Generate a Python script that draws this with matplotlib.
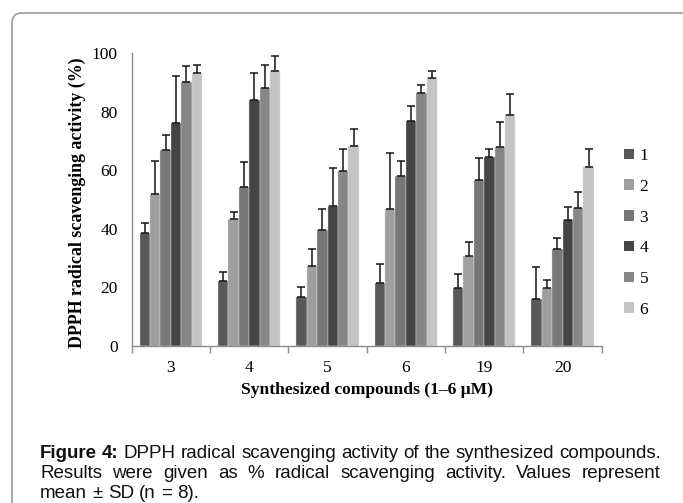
import numpy as np
import matplotlib
matplotlib.use('Agg')
import matplotlib.pyplot as plt
from matplotlib.patches import FancyBboxPatch, Patch
from matplotlib.transforms import IdentityTransform

# ---------------- data ----------------
compounds = ['3', '4', '5', '6', '19', '20']
series = ['1', '2', '3', '4', '5', '6']

mean_1 = [38.6, 22.2, 16.6, 21.4, 19.9, 16.1]
mean_2 = [52.0, 43.4, 27.3, 46.7, 30.9, 19.9]
mean_3 = [67.0, 54.3, 39.6, 58.1, 56.7, 33.1]
mean_4 = [76.2, 83.9, 47.9, 77.0, 64.7, 43.0]
mean_5 = [90.1, 88.1, 59.8, 86.3, 68.0, 47.0]
mean_6 = [93.4, 93.8, 68.3, 91.7, 78.9, 61.0]

sd_1 = [3.3, 3.2, 3.6, 6.6, 4.6, 10.9]
sd_2 = [11.3, 2.4, 5.8, 19.3, 4.7, 2.8]
sd_3 = [5.0, 8.7, 7.2, 5.2, 7.6, 3.7]
sd_4 = [16.2, 9.4, 13.0, 5.0, 2.5, 4.4]
sd_5 = [5.7, 8.0, 7.5, 2.8, 8.5, 5.6]
sd_6 = [2.6, 5.4, 5.9, 2.3, 7.3, 6.3]

y_ticks = [0, 20, 40, 60, 80, 100]

means = [mean_1, mean_2, mean_3, mean_4, mean_5, mean_6]
sds = [sd_1, sd_2, sd_3, sd_4, sd_5, sd_6]
colors = ['#585858', '#9f9f9f', '#777777', '#454545', '#868686', '#c4c4c4']

# ---------------- figure ----------------
W, H = 683, 503
fig = plt.figure(figsize=(W / 100, H / 100), dpi=100)
fig.patch.set_facecolor('white')


def fx(px):
    return px / W


def fy(py):
    return 1 - py / H


# outer rounded frame
frame = FancyBboxPatch((12, -60), 760, (H - 13) + 60,
                       boxstyle="round,pad=0,rounding_size=10",
                       transform=IdentityTransform(), facecolor='none',
                       edgecolor='#9a9a9a', linewidth=1.2)
fig.add_artist(frame)

ax = fig.add_axes([fx(131.7), fy(346), (601.7 - 131.7) / W, (346 - 53.3) / H])

serif = 'Liberation Serif'
x = np.arange(len(compounds))
bw = 0.133
for i, (m, s) in enumerate(zip(means, sds)):
    pos = x + (i - 2.5) * bw
    ax.bar(pos, m, width=bw, color=colors[i], edgecolor='#dcdcdc',
           linewidth=0.3, label=series[i], zorder=2)
    ax.errorbar(pos, m, yerr=[np.zeros(len(s)), s], fmt='none',
                ecolor='#151515', elinewidth=1.1, capsize=3, capthick=1.1,
                zorder=3)

ax.set_xlim(-0.5, len(compounds) - 0.5)
ax.set_ylim(0, 100)
ax.set_yticks(y_ticks)
ax.set_yticklabels([str(t) for t in y_ticks], family=serif, fontsize=12.5)
ax.set_xticks(np.arange(-0.5, len(compounds), 1.0))
ax.set_xticklabels([])
ax.set_xticks(x, minor=True)
ax.set_xticklabels(compounds, minor=True, family=serif, fontsize=12.5)
ax.tick_params(axis='x', which='major', length=5, color='#8c8c8c', width=1)
ax.tick_params(axis='x', which='minor', length=0, pad=10)
ax.tick_params(axis='y', length=0, pad=10)
for sp in ['top', 'right']:
    ax.spines[sp].set_visible(False)
for sp in ['left', 'bottom']:
    ax.spines[sp].set_color('#8c8c8c')
    ax.spines[sp].set_linewidth(1)

ax.set_xlabel('Synthesized compounds (1\u20136 \u03bcM)', family=serif,
              fontsize=12.6, fontweight='bold')
ax.xaxis.set_label_coords(0.5, (346 - 390) / 292.7)
ax.xaxis.label.set_va('center')
ax.set_ylabel('DPPH radical scavenging activity (%)', family=serif,
              fontsize=12.9, fontweight='bold')
ax.yaxis.set_label_coords((77 - 131.7) / 470, (346 - 203) / 292.7)
ax.yaxis.label.set_va('center')

handles = [Patch(facecolor=colors[i], edgecolor='none') for i in range(6)]
fig.legend(handles, series, loc='upper left',
           bbox_to_anchor=(fx(624), fy(148)), frameon=False,
           prop={'family': serif, 'size': 12.5}, handlelength=0.55,
           handleheight=0.55, handletextpad=0.35, labelspacing=0.85,
           borderpad=0, borderaxespad=0)

# ---------------- caption ----------------
cap_font = ['Liberation Sans']
cap_size = 13.5
renderer = fig.canvas.get_renderer()


def justified(tokens, x0, x1, y, justify=True):
    texts = []
    for word, weight in tokens:
        t = fig.text(fx(x0), fy(y), word, family=cap_font, fontsize=cap_size,
                     fontweight=weight, va='center', ha='left', color='#111111')
        texts.append(t)
    widths = [t.get_window_extent(renderer).width for t in texts]
    if justify and len(texts) > 1:
        gap = (x1 - x0 - sum(widths)) / (len(texts) - 1)
    else:
        sp = fig.text(0, 0, 'a a', family=cap_font, fontsize=cap_size)
        sp2 = fig.text(0, 0, 'aa', family=cap_font, fontsize=cap_size)
        gap = (sp.get_window_extent(renderer).width -
               sp2.get_window_extent(renderer).width)
        sp.remove()
        sp2.remove()
    cx = x0
    for t, w in zip(texts, widths):
        t.set_x(fx(cx))
        cx += w + gap


line1 = [('Figure', 'bold'), ('4:', 'bold')] + [
    (w, 'normal') for w in
    'DPPH radical scavenging activity of the synthesized compounds.'.split()]
line2 = [(w, 'normal') for w in
         'Results were given as % radical scavenging activity. Values represent'.split()]
line3 = [(w, 'normal') for w in 'mean \u00b1 SD (n = 8).'.split()]

justified(line1, 40, 661, 453)
justified(line2, 40, 661, 474)
justified(line3, 40, 661, 493, justify=False)

fig.savefig('out.png', dpi=100)
